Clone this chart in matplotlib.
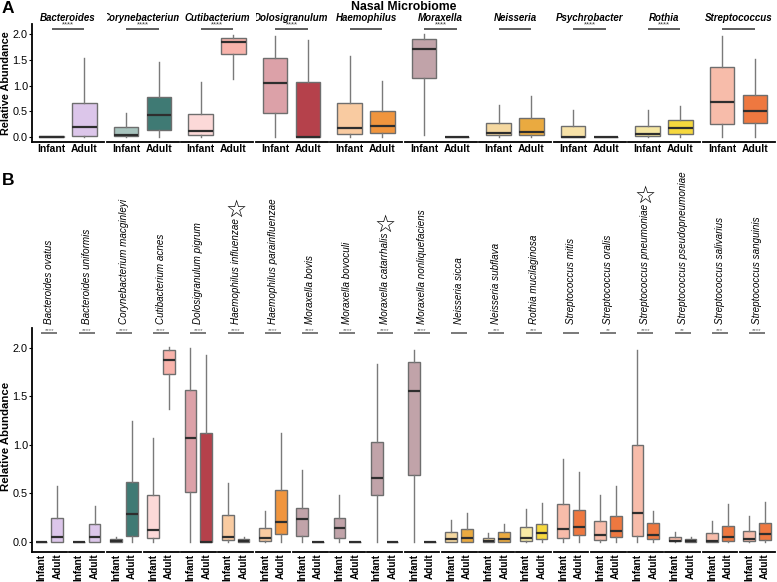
import numpy as np
import matplotlib
matplotlib.use('Agg')
from matplotlib import pyplot as plt
from matplotlib.transforms import Bbox, TransformedBbox

plt.rcParams['font.family'] = ['Liberation Sans', 'DejaVu Sans']

groups = ['Infant', 'Adult']

# ---- panel A : genus level, box stats = (whislo, q1, median, q3, whishi)
genera = ['Bacteroides', 'Corynebacterium', 'Cutibacterium', 'Dolosigranulum',
          'Haemophilus', 'Moraxella', 'Neisseria', 'Psychrobacter', 'Rothia',
          'Streptococcus']
genus_sig = ['****', '****', '****', '****', '', '****', '', '****', '****', '']
genus_infant = [(0, 0, 0, 0.01, 0.01), (0, 0.01, 0.03, 0.195, 0.475),
                (0, 0.03, 0.12, 0.45, 1.07), (0, 0.47, 1.04, 1.53, 1.97),
                (0, 0.05, 0.18, 0.66, 1.58), (0.03, 1.15, 1.71, 1.90, 2.0),
                (0, 0.03, 0.08, 0.28, 0.63), (0, 0, 0, 0.215, 0.52),
                (0, 0.01, 0.065, 0.215, 0.52), (0, 0.25, 0.67, 1.35, 1.97)]
genus_adult = [(0, 0.01, 0.195, 0.66, 1.53), (0, 0.14, 0.43, 0.78, 1.45),
               (1.13, 1.61, 1.84, 1.92, 1.99), (0, 0, 0, 1.07, 1.89),
               (0, 0.085, 0.215, 0.5, 1.09), (0, 0, 0, 0, 0),
               (0, 0.03, 0.1, 0.37, 0.79), (0, 0, 0, 0, 0),
               (0, 0.065, 0.17, 0.325, 0.6), (0, 0.28, 0.5, 0.81, 1.51)]
genus_col_inf = ['#e0d0ec', '#a7c3bd', '#fcd9d8', '#dca1a8', '#f9cba1',
                 '#c1a3a9', '#f5d8a0', '#f7e2a8', '#f5e6a2', '#f7bcaa']
genus_col_ad = ['#dcc6ea', '#3f7a74', '#f8b3ab', '#b5414b', '#f0953e',
                '#8b6a72', '#eaaa40', '#f2d27a', '#f6d83e', '#ee7840']

# ---- panel B : species level
species = ['Bacteroides ovatus', 'Bacteroides uniformis', 'Corynebacterium macginleyi',
           'Cutibacterium acnes', 'Dolosigranulum pigrum', 'Haemophilus influenzae',
           'Haemophilus parainfluenzae', 'Moraxella bovis', 'Moraxella bovoculi',
           'Moraxella catarrhalis', 'Moraxella nonliquefaciens', 'Neisseria sicca',
           'Neisseria subflava', 'Rothia mucilaginosa', 'Streptococcus mitis',
           'Streptococcus oralis', 'Streptococcus pneumoniae',
           'Streptococcus pseudopneumoniae', 'Streptococcus salivarius',
           'Streptococcus sanguinis']
species_star = ['Haemophilus influenzae', 'Moraxella catarrhalis', 'Streptococcus pneumoniae']
species_sig = ['****', '****', '****', '****', '****', '****', '****', '****', '****',
               '****', '****', '', '***', '***', '', '**', '****', '**', '***', '****']
species_infant = [(0, 0, 0, 0, 0), (0, 0, 0, 0, 0), (0, 0, 0.01, 0.03, 0.05),
                  (0, 0.04, 0.12, 0.48, 1.07), (0, 0.51, 1.065, 1.56, 2.0),
                  (0, 0.017, 0.045, 0.28, 0.61), (0, 0.01, 0.04, 0.14, 0.32),
                  (0, 0.06, 0.235, 0.345, 0.74), (0, 0.04, 0.14, 0.24, 0.48),
                  (0, 0.48, 0.66, 1.03, 1.83), (0, 0.685, 1.55, 1.85, 1.98),
                  (0, 0, 0.024, 0.1, 0.22), (0, 0, 0.007, 0.034, 0.09),
                  (0, 0.007, 0.038, 0.15, 0.34), (0, 0.04, 0.134, 0.385, 0.85),
                  (0, 0.017, 0.065, 0.21, 0.48), (0, 0.055, 0.3, 1.0, 1.98),
                  (0, 0.003, 0.01, 0.048, 0.1), (0, 0, 0.01, 0.086, 0.21),
                  (0, 0.007, 0.027, 0.107, 0.265)]
species_adult = [(0, 0, 0.045, 0.24, 0.57), (0, 0, 0.05, 0.18, 0.37),
                 (0, 0.06, 0.285, 0.62, 1.24), (1.37, 1.73, 1.87, 1.975, 2.01),
                 (0, 0, 0, 1.12, 1.92), (0, 0, 0.01, 0.024, 0.05),
                 (0, 0.075, 0.205, 0.53, 1.12), (0, 0, 0, 0, 0), (0, 0, 0, 0, 0),
                 (0, 0, 0, 0, 0), (0, 0, 0, 0, 0), (0, 0, 0.034, 0.134, 0.3),
                 (0, 0, 0.024, 0.096, 0.18), (0, 0.024, 0.09, 0.18, 0.4),
                 (0, 0.065, 0.15, 0.326, 0.72), (0, 0.045, 0.11, 0.265, 0.57),
                 (0, 0.03, 0.07, 0.19, 0.32), (0, 0, 0.007, 0.027, 0.048),
                 (0, 0.01, 0.045, 0.165, 0.39), (0, 0.02, 0.075, 0.19, 0.405)]
species_col_inf = ['#e0d0ec', '#e0d0ec', '#a7c3bd', '#fcd9d8', '#dca1a8', '#f9cba1',
                   '#f9cba1', '#c1a3a9', '#c1a3a9', '#c1a3a9', '#c1a3a9', '#f5d8a0',
                   '#f5d8a0', '#f8eaa6'] + ['#f7bcaa'] * 6
species_col_ad = ['#dcc6ea', '#dcc6ea', '#3f7a74', '#f8b3ab', '#b5414b', '#c8742f',
                  '#f0953e', '#8b6a72', '#8b6a72', '#8b6a72', '#8b6a72', '#eaaa40',
                  '#eaaa40', '#f6d83e'] + ['#ee7840'] * 6

W, H = 777, 582
fig = plt.figure(figsize=(W / 100, H / 100), dpi=100)


def stats_dict(s):
    return dict(whislo=s[0], q1=s[1], med=s[2], q3=s[3], whishi=s[4], fliers=[])


def draw_row(names, sig, inf, ad, cinf, cad, bot_px, top_px, ylim, sig_y, vertical):
    n = len(names)
    x0 = 32
    w = (W - x0) / n
    axes = []
    for i in range(n):
        ax = fig.add_axes([(x0 + i * w) / W, 1 - bot_px / H, (w - 2.5) / W,
                           (bot_px - top_px) / H])
        bp = ax.bxp([stats_dict(inf[i]), stats_dict(ad[i])], positions=[1, 2],
                    widths=0.75, patch_artist=True, showfliers=False, showcaps=False,
                    boxprops=dict(edgecolor='#6e6e6e', linewidth=1.0),
                    whiskerprops=dict(color='#7a7a7a', linewidth=1.0),
                    medianprops=dict(color='#2e2e2e', linewidth=1.6))
        bp['boxes'][0].set_facecolor(cinf[i])
        bp['boxes'][1].set_facecolor(cad[i])
        ax.set_xlim(0.4, 2.6)
        ax.set_ylim(*ylim)
        for s in ['top', 'right']:
            ax.spines[s].set_visible(False)
        ax.spines['bottom'].set_linewidth(1.3)
        ax.spines['left'].set_linewidth(1.3)
        ax.set_xticks([1, 2])
        if vertical:
            ax.set_xticklabels(groups, rotation=90, fontsize=7.2, fontweight='bold')
        else:
            ax.set_xticklabels(groups, fontsize=7.5, fontweight='bold')
        ax.tick_params(axis='x', length=0, pad=1.5)
        if i == 0:
            ax.set_yticks([0, 0.5, 1.0, 1.5, 2.0])
            ax.set_yticklabels(['0.0', '0.5', '1.0', '1.5', '2.0'], fontsize=7.8)
            ax.tick_params(axis='y', length=2, pad=1, width=0.8)
        else:
            ax.spines['left'].set_visible(False)
            ax.set_yticks([])
        ax.patch.set_alpha(0)
        # significance bar
        ax.plot([1, 2], [sig_y, sig_y], color='#555555' if vertical else '#333333',
                lw=1.1, clip_on=False, solid_capstyle='butt')
        if sig[i]:
            ax.text(1.5, sig_y, sig[i], ha='center', va='bottom',
                    fontsize=4.5 if vertical else 5.5,
                    color='#666666' if vertical else '#333333', clip_on=False)
        axes.append(ax)
    return axes


axA = draw_row(genera, genus_sig, genus_infant, genus_adult, genus_col_inf,
               genus_col_ad, 142, 23.7, (-0.097, 2.2), 2.1, False)
for i, ax in enumerate(axA):
    t = ax.annotate(genera[i], xy=(0.5, 1.0), xycoords='axes fraction',
                    xytext=(0, 4.2), textcoords='offset points', ha='center',
                    va='center', fontsize=7, fontweight='bold', style='italic')
    l = ax.get_position().x0
    r = ax.get_position().x1
    t.set_clip_box(TransformedBbox(Bbox([[l, 0], [r, 1]]), fig.transFigure))
    t.set_clip_on(True)

axB = draw_row(species, species_sig, species_infant, species_adult, species_col_inf,
               species_col_ad, 551.7, 328.3, (-0.103, 2.2), 2.155, True)
for i, ax in enumerate(axB):
    t = ax.text(1.5, 2.245, species[i], rotation=90, ha='center', va='bottom',
                fontsize=7.1, style='italic', clip_on=False)
    if species[i] in species_star:
        ax.annotate('\u2606', xy=(0.5, 1.0), xycoords=t, xytext=(0, -3),
                    textcoords='offset points', ha='center', va='bottom',
                    fontsize=17, family=['DejaVu Sans'])

fig.text(404 / W, 1 - 6.5 / H, 'Nasal Microbiome', ha='center', va='center',
         fontsize=8.8, fontweight='bold')
fig.text(2 / W, 1 - 1 / H, 'A', ha='left', va='top', fontsize=12.5, fontweight='bold')
fig.text(2 / W, 1 - 173 / H, 'B', ha='left', va='top', fontsize=12.5, fontweight='bold')
fig.text(6 / W, 1 - 83 / H, 'Relative Abundance', rotation=90, ha='center',
         va='center', fontsize=7.8, fontweight='bold')
fig.text(6 / W, 1 - 436 / H, 'Relative Abundance', rotation=90, ha='center',
         va='center', fontsize=8.2, fontweight='bold')

fig.savefig('out.png', dpi=100)
